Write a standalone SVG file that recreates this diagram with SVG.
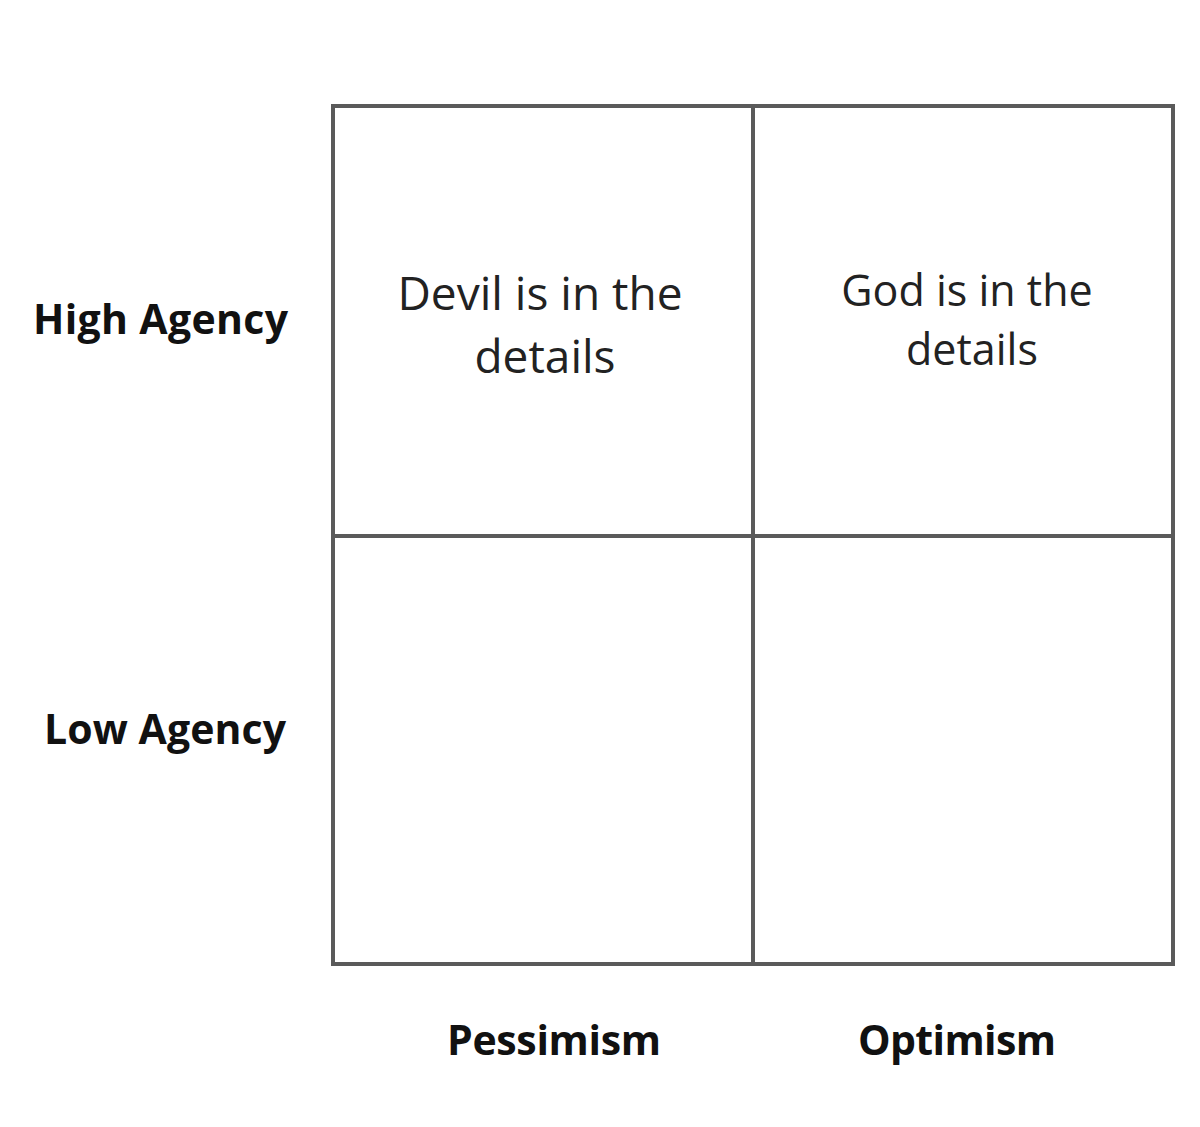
<svg xmlns="http://www.w3.org/2000/svg" width="1200" height="1127" viewBox="0 0 1200 1127">
<style>
.cell{fill:#fff;stroke:#5a5a5a;stroke-width:4}
.lab{font-family:"Open Sans","Noto Sans",sans-serif;font-weight:bold;font-size:41px;fill:#111}
.txt{font-family:"Open Sans","Noto Sans",sans-serif;font-size:40px;fill:#222;text-anchor:middle}
</style>
<rect width="1200" height="1127" fill="#fff"/>
<g id="grid">
<rect class="cell" x="333" y="106" width="420" height="430"/>
<rect class="cell" x="753" y="106" width="420" height="430"/>
<rect class="cell" x="333" y="536" width="420" height="428"/>
<rect class="cell" x="753" y="536" width="420" height="428"/>
</g>
<g id="q1"><text class="txt" x="540" y="310" style="font-size:46px">Devil is in the</text><text class="txt" x="545" y="373" style="font-size:46px">details</text></g>
<g id="q2"><text class="txt" x="967" y="306" style="font-size:43px">God is in the</text><text class="txt" x="972" y="365" style="font-size:43px">details</text></g>
<g id="high"><text class="lab" x="33" y="334" textLength="255">High Agency</text></g>
<g id="low"><text class="lab" x="44" y="744" textLength="242">Low Agency</text></g>
<g id="pess"><text class="lab" x="447" y="1055" textLength="214">Pessimism</text></g>
<g id="opt"><text class="lab" x="858" y="1055" textLength="198">Optimism</text></g>
</svg>
